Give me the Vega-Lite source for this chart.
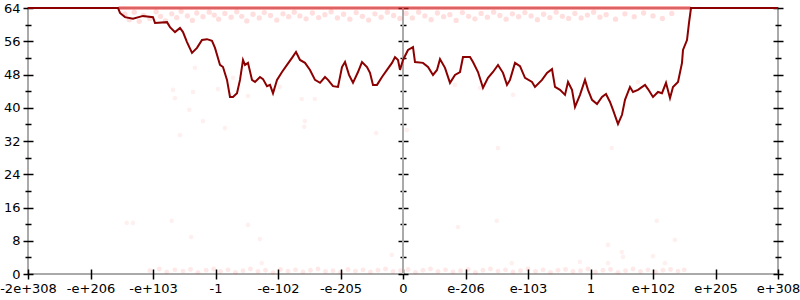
{
  "$schema": "https://vega.github.io/schema/vega-lite/v6.json",
  "width": 750,
  "height": 266,
  "autosize": {"type": "none"},
  "padding": {"left": 28, "top": 8, "right": 22, "bottom": 26},
  "background": "white",
  "config": {
    "view": {"stroke": "#aaaaaa", "strokeWidth": 2},
    "axis": {
      "labelFont": "DejaVu Sans",
      "labelFontSize": 13,
      "labelColor": "#000000",
      "labelPadding": 3,
      "labelFlush": false,
      "labelOverlap": false,
      "domain": false,
      "tickColor": "#000000",
      "tickWidth": 1.5,
      "grid": false,
      "title": null
    }
  },
  "datasets": {
    "line": [
      {"x": -6, "y": 64}, {"x": -4.56, "y": 64}, {"x": -4.528, "y": 62.8}, {"x": -4.448, "y": 61.8}, {"x": -4.32, "y": 61.4}, {"x": -4.16, "y": 62.1}, {"x": -4.0, "y": 61.8}, {"x": -3.968, "y": 60.4}, {"x": -3.776, "y": 60.6}, {"x": -3.728, "y": 59.4}, {"x": -3.648, "y": 58.2}, {"x": -3.568, "y": 59.2}, {"x": -3.52, "y": 58.2}, {"x": -3.456, "y": 55.8}, {"x": -3.376, "y": 53.2}, {"x": -3.296, "y": 54.4}, {"x": -3.216, "y": 56.3}, {"x": -3.136, "y": 56.5}, {"x": -3.056, "y": 56.1}, {"x": -3.008, "y": 54.4}, {"x": -2.928, "y": 50.3}, {"x": -2.88, "y": 49.8}, {"x": -2.816, "y": 46.7}, {"x": -2.768, "y": 42.6}, {"x": -2.72, "y": 42.6}, {"x": -2.656, "y": 43.5}, {"x": -2.608, "y": 46.7}, {"x": -2.56, "y": 51.5}, {"x": -2.528, "y": 50.3}, {"x": -2.48, "y": 50.8}, {"x": -2.416, "y": 46.7}, {"x": -2.368, "y": 46.2}, {"x": -2.288, "y": 47.4}, {"x": -2.24, "y": 46.9}, {"x": -2.176, "y": 45.2}, {"x": -2.128, "y": 45.5}, {"x": -2.08, "y": 43.5}, {"x": -2.016, "y": 46.7}, {"x": -1.936, "y": 48.6}, {"x": -1.856, "y": 50.3}, {"x": -1.776, "y": 52.0}, {"x": -1.712, "y": 53.4}, {"x": -1.648, "y": 51.5}, {"x": -1.568, "y": 50.8}, {"x": -1.488, "y": 49.1}, {"x": -1.408, "y": 46.7}, {"x": -1.328, "y": 46.0}, {"x": -1.248, "y": 47.4}, {"x": -1.2, "y": 46.7}, {"x": -1.12, "y": 45.2}, {"x": -1.04, "y": 45.0}, {"x": -0.976, "y": 49.8}, {"x": -0.928, "y": 51.0}, {"x": -0.864, "y": 47.9}, {"x": -0.8, "y": 46.0}, {"x": -0.72, "y": 48.6}, {"x": -0.656, "y": 51.0}, {"x": -0.576, "y": 49.8}, {"x": -0.528, "y": 48.4}, {"x": -0.48, "y": 45.5}, {"x": -0.416, "y": 45.5}, {"x": -0.336, "y": 47.4}, {"x": -0.256, "y": 49.1}, {"x": -0.176, "y": 50.8}, {"x": -0.128, "y": 52.2}, {"x": -0.08, "y": 51.5}, {"x": -0.048, "y": 49.1}, {"x": 0, "y": 51.5}, {"x": 0.08, "y": 53.9}, {"x": 0.16, "y": 54.6}, {"x": 0.192, "y": 51.0}, {"x": 0.32, "y": 50.8}, {"x": 0.4, "y": 49.8}, {"x": 0.48, "y": 47.9}, {"x": 0.544, "y": 49.1}, {"x": 0.592, "y": 51.7}, {"x": 0.672, "y": 49.6}, {"x": 0.752, "y": 46.0}, {"x": 0.832, "y": 47.9}, {"x": 0.912, "y": 48.6}, {"x": 0.96, "y": 52.2}, {"x": 1.072, "y": 52.2}, {"x": 1.12, "y": 51.0}, {"x": 1.2, "y": 48.6}, {"x": 1.28, "y": 44.8}, {"x": 1.36, "y": 47.2}, {"x": 1.44, "y": 48.6}, {"x": 1.52, "y": 50.3}, {"x": 1.6, "y": 48.4}, {"x": 1.664, "y": 45.5}, {"x": 1.712, "y": 46.7}, {"x": 1.792, "y": 50.8}, {"x": 1.872, "y": 50.0}, {"x": 1.952, "y": 47.2}, {"x": 2.064, "y": 46.2}, {"x": 2.112, "y": 45.0}, {"x": 2.224, "y": 46.7}, {"x": 2.304, "y": 48.4}, {"x": 2.384, "y": 49.3}, {"x": 2.432, "y": 45.0}, {"x": 2.512, "y": 44.3}, {"x": 2.592, "y": 43.1}, {"x": 2.64, "y": 46.2}, {"x": 2.704, "y": 44.3}, {"x": 2.752, "y": 40.2}, {"x": 2.832, "y": 43.1}, {"x": 2.912, "y": 46.7}, {"x": 2.96, "y": 44.3}, {"x": 3.024, "y": 41.9}, {"x": 3.104, "y": 40.9}, {"x": 3.184, "y": 42.6}, {"x": 3.248, "y": 43.3}, {"x": 3.312, "y": 41.4}, {"x": 3.36, "y": 39.5}, {"x": 3.44, "y": 36.1}, {"x": 3.504, "y": 38.3}, {"x": 3.552, "y": 41.9}, {"x": 3.632, "y": 45.0}, {"x": 3.68, "y": 43.8}, {"x": 3.76, "y": 44.3}, {"x": 3.872, "y": 45.5}, {"x": 3.92, "y": 44.5}, {"x": 4.0, "y": 42.6}, {"x": 4.08, "y": 43.8}, {"x": 4.144, "y": 43.5}, {"x": 4.208, "y": 46.0}, {"x": 4.272, "y": 42.3}, {"x": 4.32, "y": 45.0}, {"x": 4.4, "y": 46.2}, {"x": 4.464, "y": 50.8}, {"x": 4.48, "y": 53.9}, {"x": 4.544, "y": 56.3}, {"x": 4.576, "y": 60.4}, {"x": 4.608, "y": 64}, {"x": 6, "y": 64}
    ],
    "band": [
      {"x": -4.55, "y": 64}, {"x": -4.0, "y": 64}, {"x": -3.0, "y": 64}, {"x": -2.0, "y": 64}, {"x": -1.0, "y": 64}, {"x": 0.0, "y": 64}, {"x": 1.0, "y": 64}, {"x": 2.0, "y": 64}, {"x": 3.0, "y": 64}, {"x": 4.0, "y": 64}, {"x": 4.6, "y": 64}
    ],
    "center": [{"x": 0}],
    "dotsTop": [
      {"x": -4.45, "y": 62.5}, {"x": -4.38, "y": 61.2}, {"x": -4.3, "y": 63}, {"x": -4.22, "y": 60.8}, {"x": -4.15, "y": 62.2}, {"x": -4.05, "y": 61.5}, {"x": -3.95, "y": 63.1}, {"x": -3.88, "y": 62}, {"x": -3.8, "y": 60.9}, {"x": -3.7, "y": 62.6}, {"x": -3.62, "y": 61.7}, {"x": -3.55, "y": 63.2}, {"x": -3.45, "y": 62.1}, {"x": -3.37, "y": 61}, {"x": -3.3, "y": 62.8}, {"x": -3.2, "y": 61.9}, {"x": -3.1, "y": 63}, {"x": -3.02, "y": 62.3}, {"x": -2.95, "y": 61.3}, {"x": -2.85, "y": 62.7}, {"x": -2.75, "y": 61.8}, {"x": -2.66, "y": 63.1}, {"x": -2.58, "y": 62}, {"x": -2.5, "y": 60.9}, {"x": -2.4, "y": 62.5}, {"x": -2.3, "y": 61.6}, {"x": -2.22, "y": 62.9}, {"x": -2.12, "y": 62.2}, {"x": -2.02, "y": 61.1}, {"x": -1.92, "y": 62.6}, {"x": -1.83, "y": 61.9}, {"x": -1.74, "y": 63}, {"x": -1.65, "y": 62.1}, {"x": -1.55, "y": 61.4}, {"x": -1.45, "y": 62.8}, {"x": -1.35, "y": 61.7}, {"x": -1.25, "y": 62.4}, {"x": -1.15, "y": 63.1}, {"x": -1.05, "y": 61.6}, {"x": -0.95, "y": 62.5}, {"x": -0.85, "y": 61.3}, {"x": -0.75, "y": 62.9}, {"x": -0.65, "y": 62}, {"x": -0.55, "y": 61.1}, {"x": -0.45, "y": 62.6}, {"x": -0.35, "y": 61.8}, {"x": -0.25, "y": 63}, {"x": -0.15, "y": 62.2}, {"x": -0.05, "y": 61.5}, {"x": 0.05, "y": 62.7}, {"x": 0.15, "y": 61.6}, {"x": 0.25, "y": 63}, {"x": 0.35, "y": 62.1}, {"x": 0.45, "y": 61.2}, {"x": 0.55, "y": 62.8}, {"x": 0.65, "y": 61.9}, {"x": 0.75, "y": 62.4}, {"x": 0.85, "y": 61}, {"x": 0.95, "y": 62.9}, {"x": 1.05, "y": 62}, {"x": 1.15, "y": 61.4}, {"x": 1.25, "y": 62.7}, {"x": 1.35, "y": 61.8}, {"x": 1.45, "y": 63}, {"x": 1.55, "y": 62.2}, {"x": 1.65, "y": 61.3}, {"x": 1.75, "y": 62.6}, {"x": 1.85, "y": 61.9}, {"x": 1.95, "y": 62.9}, {"x": 2.05, "y": 62.1}, {"x": 2.15, "y": 61.2}, {"x": 2.25, "y": 62.5}, {"x": 2.35, "y": 61.7}, {"x": 2.45, "y": 63}, {"x": 2.55, "y": 62}, {"x": 2.65, "y": 61.5}, {"x": 2.75, "y": 62.7}, {"x": 2.85, "y": 61.6}, {"x": 2.95, "y": 62.3}, {"x": 3.05, "y": 63}, {"x": 3.15, "y": 61.8}, {"x": 3.25, "y": 62.4}, {"x": 3.4, "y": 61.3}, {"x": 3.55, "y": 62.6}, {"x": 3.7, "y": 61.9}, {"x": 3.85, "y": 62.8}, {"x": 4.0, "y": 62.1}, {"x": 4.15, "y": 61.5}, {"x": 4.3, "y": 62.7}
    ],
    "dotsBottom": [
      {"x": -4.05, "y": 0.8}, {"x": -3.9, "y": 1.2}, {"x": -3.78, "y": 0.5}, {"x": -3.65, "y": 1}, {"x": -3.52, "y": 0.7}, {"x": -3.4, "y": 1.1}, {"x": -3.28, "y": 0.4}, {"x": -3.15, "y": 0.9}, {"x": -3.03, "y": 1.2}, {"x": -2.92, "y": 0.6}, {"x": -2.8, "y": 1}, {"x": -2.68, "y": 0.4}, {"x": -2.56, "y": 0.8}, {"x": -2.44, "y": 1.2}, {"x": -2.32, "y": 0.6}, {"x": -2.2, "y": 0.9}, {"x": -2.08, "y": 0.3}, {"x": -1.96, "y": 1.1}, {"x": -1.84, "y": 0.7}, {"x": -1.72, "y": 1}, {"x": -1.6, "y": 0.5}, {"x": -1.48, "y": 0.9}, {"x": -1.36, "y": 1.2}, {"x": -1.24, "y": 0.6}, {"x": -1.12, "y": 0.8}, {"x": -1, "y": 0.4}, {"x": -0.88, "y": 1.1}, {"x": -0.76, "y": 0.7}, {"x": -0.64, "y": 1}, {"x": -0.52, "y": 0.5}, {"x": -0.4, "y": 0.9}, {"x": -0.28, "y": 1.2}, {"x": -0.16, "y": 0.6}, {"x": -0.04, "y": 0.8}, {"x": 0.08, "y": 1.1}, {"x": 0.2, "y": 0.4}, {"x": 0.32, "y": 0.9}, {"x": 0.44, "y": 1.2}, {"x": 0.56, "y": 0.6}, {"x": 0.68, "y": 1}, {"x": 0.8, "y": 0.5}, {"x": 0.92, "y": 0.8}, {"x": 1.04, "y": 1.1}, {"x": 1.16, "y": 0.4}, {"x": 1.28, "y": 0.9}, {"x": 1.4, "y": 1.2}, {"x": 1.52, "y": 0.7}, {"x": 1.64, "y": 1}, {"x": 1.76, "y": 0.5}, {"x": 1.88, "y": 0.8}, {"x": 2, "y": 1.2}, {"x": 2.12, "y": 0.6}, {"x": 2.24, "y": 1}, {"x": 2.36, "y": 0.4}, {"x": 2.48, "y": 0.9}, {"x": 2.6, "y": 1.1}, {"x": 2.72, "y": 0.6}, {"x": 2.84, "y": 0.8}, {"x": 2.96, "y": 1.2}, {"x": 3.08, "y": 0.5}, {"x": 3.2, "y": 0.9}, {"x": 3.32, "y": 1.1}, {"x": 3.44, "y": 0.4}, {"x": 3.56, "y": 0.8}, {"x": 3.68, "y": 1.2}, {"x": 3.8, "y": 0.6}, {"x": 3.92, "y": 1}, {"x": 4.04, "y": 0.5}, {"x": 4.16, "y": 0.9}, {"x": 4.28, "y": 1.1}, {"x": 4.4, "y": 0.7}, {"x": 4.5, "y": 1}
    ],
    "dotsHigh": [
      {"x": -3.33, "y": 49.6}, {"x": -3.68, "y": 44.3}, {"x": -3.65, "y": 42.3}, {"x": -3.36, "y": 43.8}, {"x": -3.42, "y": 39.5}, {"x": -3.2, "y": 36.8}, {"x": -3.57, "y": 33.4}, {"x": -2.96, "y": 44.5}, {"x": -2.85, "y": 35.1}, {"x": -2.72, "y": 47.2}, {"x": -2.48, "y": 42.8}, {"x": -1.97, "y": 45.0}, {"x": -1.62, "y": 42.1}, {"x": -1.41, "y": 42.1}, {"x": -1.57, "y": 36.8}, {"x": -1.58, "y": 35.4}, {"x": -0.43, "y": 33.9}, {"x": 0.83, "y": 45.5}, {"x": 1.23, "y": 44.8}, {"x": 1.76, "y": 43.1}, {"x": 3.76, "y": 46.2}, {"x": 0.06, "y": 34.6}, {"x": 1.52, "y": 30.3}, {"x": 3.34, "y": 30.3}
    ],
    "dotsLow": [
      {"x": -4.42, "y": 12.3}, {"x": -4.32, "y": 12.3}, {"x": -3.7, "y": 12.8}, {"x": -2.48, "y": 11.8}, {"x": -3.39, "y": 8.9}, {"x": -2.29, "y": 8.4}, {"x": -2.26, "y": 2.6}, {"x": -0.18, "y": 4.6}, {"x": 0.88, "y": 11.3}, {"x": 1.5, "y": 12.8}, {"x": 3.28, "y": 7.0}, {"x": 3.5, "y": 5.3}, {"x": 3.52, "y": 4.1}, {"x": 4.0, "y": 4.3}, {"x": 4.35, "y": 8.2}, {"x": 2.83, "y": 2.9}, {"x": 1.74, "y": 2.6}, {"x": 3.28, "y": 2.6}, {"x": 4.19, "y": 2.6}, {"x": 4.06, "y": 12.8}
    ]
  },
  "resolve": {"axis": {"y": "independent", "x": "independent"}},
  "layer": [
    {
      "data": {"name": "center"},
      "mark": {"type": "rule", "color": "#aaaaaa", "strokeWidth": 2},
      "encoding": {
        "x": {"field": "x", "type": "quantitative", "scale": {"domain": [-6, 6], "nice": false, "zero": false}, "axis": null}
      }
    },
    {
      "data": {"name": "dotsTop"},
      "mark": {"type": "point", "filled": true, "color": "#ff0000", "opacity": 0.13, "size": 28, "strokeWidth": 0},
      "encoding": {
        "x": {
          "field": "x", "type": "quantitative",
          "scale": {"domain": [-6, 6], "nice": false, "zero": false},
          "axis": {
            "orient": "bottom",
            "offset": -5,
            "tickSize": 10,
            "values": [-6, -5, -4, -3, -2, -1, 0, 1, 2, 3, 4, 5, 6],
            "labelExpr": "['-2e+308','-e+206','-e+103','-1','-e-102','-e-205','0','e-206','e-103','1','e+102','e+205','e+308'][datum.value + 6]"
          }
        },
        "y": {
          "field": "y", "type": "quantitative",
          "scale": {"domain": [0, 64], "nice": false, "zero": false},
          "axis": {"orient": "left", "offset": -5, "tickSize": 10, "values": [0, 8, 16, 24, 32, 40, 48, 56, 64]}
        }
      }
    },
    {
      "data": {"name": "dotsBottom"},
      "mark": {"type": "point", "filled": true, "color": "#ff0000", "opacity": 0.09, "size": 24, "strokeWidth": 0},
      "encoding": {
        "x": {"field": "x", "type": "quantitative", "scale": {"domain": [-6, 6], "nice": false, "zero": false}, "axis": null},
        "y": {
          "field": "y", "type": "quantitative",
          "scale": {"domain": [0, 64], "nice": false, "zero": false},
          "axis": {"orient": "left", "offset": -3, "tickSize": 6, "labels": false, "values": [4, 12, 20, 28, 36, 44, 52, 60]}
        }
      }
    },
    {
      "data": {"name": "dotsHigh"},
      "mark": {"type": "point", "filled": true, "color": "#ff0000", "opacity": 0.06, "size": 22, "strokeWidth": 0},
      "encoding": {
        "x": {"field": "x", "type": "quantitative", "scale": {"domain": [-6, 6], "nice": false, "zero": false}, "axis": null},
        "y": {
          "field": "y", "type": "quantitative",
          "scale": {"domain": [0, 64], "nice": false, "zero": false},
          "axis": {"orient": "left", "offset": -380, "tickSize": 10, "labels": false, "values": [0, 8, 16, 24, 32, 40, 48, 56, 64]}
        }
      }
    },
    {
      "data": {"name": "dotsLow"},
      "mark": {"type": "point", "filled": true, "color": "#ff0000", "opacity": 0.06, "size": 22, "strokeWidth": 0},
      "encoding": {
        "x": {"field": "x", "type": "quantitative", "scale": {"domain": [-6, 6], "nice": false, "zero": false}, "axis": null},
        "y": {
          "field": "y", "type": "quantitative",
          "scale": {"domain": [0, 64], "nice": false, "zero": false},
          "axis": {"orient": "left", "offset": -378, "tickSize": 6, "labels": false, "values": [4, 12, 20, 28, 36, 44, 52, 60]}
        }
      }
    },
    {
      "data": {"name": "band"},
      "mark": {"type": "line", "color": "#ff2a2a", "opacity": 0.55, "strokeWidth": 3.5},
      "encoding": {
        "x": {"field": "x", "type": "quantitative", "scale": {"domain": [-6, 6], "nice": false, "zero": false}, "axis": null},
        "y": {
          "field": "y", "type": "quantitative",
          "scale": {"domain": [0, 64], "nice": false, "zero": false},
          "axis": {"orient": "right", "offset": -5, "tickSize": 10, "labels": false, "values": [0, 8, 16, 24, 32, 40, 48, 56, 64]}
        }
      }
    },
    {
      "data": {"name": "line"},
      "mark": {"type": "line", "color": "#8b0000", "strokeWidth": 2},
      "encoding": {
        "x": {"field": "x", "type": "quantitative", "scale": {"domain": [-6, 6], "nice": false, "zero": false}, "axis": null},
        "y": {
          "field": "y", "type": "quantitative",
          "scale": {"domain": [0, 64], "nice": false, "zero": false},
          "axis": {"orient": "right", "offset": -3, "tickSize": 6, "labels": false, "values": [4, 12, 20, 28, 36, 44, 52, 60]}
        }
      }
    }
  ]
}
